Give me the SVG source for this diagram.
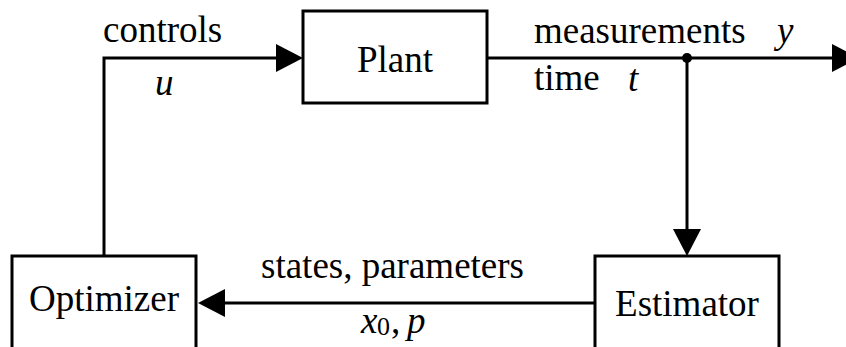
<svg xmlns="http://www.w3.org/2000/svg" width="846" height="347" viewBox="0 0 846 347">
<style>
text { font-family: 'Liberation Serif', 'DejaVu Serif', serif; font-size: 37px; fill: #000; }
.it { font-style: italic; }
.box { fill: #fff; stroke: #000; stroke-width: 3; }
.ln { fill: none; stroke: #000; stroke-width: 3; }
.mid { text-anchor: middle; }
</style>
<defs>
<marker id="arr" viewBox="0 0 27 28" refX="0" refY="14" markerWidth="27" markerHeight="28" markerUnits="userSpaceOnUse" orient="auto">
<path d="M0,0 L27,14 L0,28 z" fill="#000"/>
</marker>
</defs>
<g id="connectors">
<path class="ln" d="M104,256 V58 H276" marker-end="url(#arr)"/>
<path class="ln" d="M487,58 H832" marker-end="url(#arr)"/>
<path class="ln" d="M687,58 V229" marker-end="url(#arr)"/>
<path class="ln" d="M595,303 H225" marker-end="url(#arr)"/>
<circle cx="687" cy="58" r="5" fill="#000"/>
<text x="103" y="42">controls</text>
<text class="it" x="155" y="95">u</text>
<text x="534" y="43">measurements</text>
<text class="it" x="777" y="43">y</text>
<text x="534" y="90">time</text>
<text class="it" x="628" y="91">t</text>
<text x="261" y="278">states, parameters</text>
<text x="361" y="333"><tspan class="it">x</tspan><tspan x="377" y="335" font-size="26">0</tspan><tspan x="391" y="333">,</tspan><tspan class="it" x="407">p</tspan></text>
</g>
<g id="plant">
<rect class="box" x="303" y="11" width="184" height="92"/>
<text class="mid" x="395" y="72">Plant</text>
</g>
<g id="optimizer">
<rect class="box" x="12" y="256" width="184" height="100"/>
<text class="mid" x="104" y="311">Optimizer</text>
</g>
<g id="estimator">
<rect class="box" x="595" y="256" width="184" height="100"/>
<text class="mid" x="687" y="316">Estimator</text>
</g>
</svg>
